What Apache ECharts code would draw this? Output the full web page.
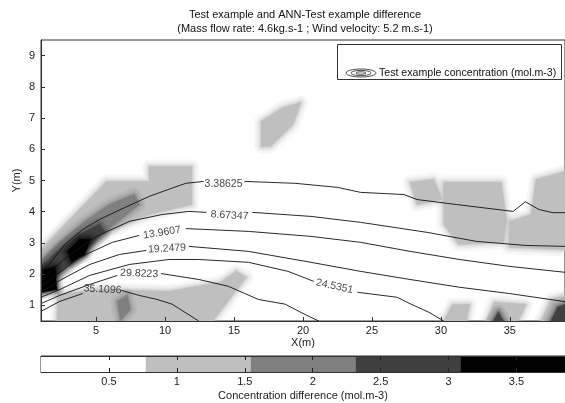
<!DOCTYPE html>
<html><head><meta charset="utf-8">
<script src="https://cdn.jsdelivr.net/npm/echarts@6/dist/echarts.min.js"></script>
<style>html,body{margin:0;padding:0;background:#fff}#c{width:565px;height:403px}</style>
</head><body><div id="c"></div>
<script>
const FONT = "'Liberation Sans', Arial, sans-serif";
const titleLines = ['Test example and ANN-Test example difference', '(Mass flow rate: 4.6kg.s-1 ; Wind velocity: 5.2 m.s-1)'];
const xTicks = [5, 10, 15, 20, 25, 30, 35];
const yTicks = [1, 2, 3, 4, 5, 6, 7, 8, 9];
const cbTicks = [0.5, 1, 1.5, 2, 2.5, 3, 3.5];
const cbEdges = [0, 0.771, 1.543, 2.314, 3.086, 3.857];
const cbColors = ['#ffffff', '#bfbfbf', '#808080', '#404040', '#000000'];

const contourLevels = [3.38625, 8.67347, 13.9607, 19.2479, 24.5351, 29.8223, 35.1096];
// each contour: list of segments (gaps where labels sit)
const contour1 = [
  [[1,1.99],[1.86,2.47],[2.73,2.96],[4.02,3.43],[5.24,3.75],[6.47,4.01],[7.76,4.27],[8.84,4.49],[10.28,4.72],[11.5,4.91],[12.8,4.97]],
  [[15.75,4.97],[19.42,4.91],[22.51,4.78],[24.17,4.62],[27.33,4.55],[28.27,4.39],[31.14,4.23],[35.24,4.01],[36.12,4.32],[37.12,4.07],[38.12,3.97],[39,3.97]]
];
const contour2 = [
  [[1,1.80],[2.01,2.22],[3.09,2.63],[5.03,3.21],[7.4,3.69],[9.78,3.91],[11.72,4.01],[13.0,3.98]],
  [[16.32,3.98],[20.57,3.85],[24.17,3.66],[28.99,3.34],[32.58,3.05],[36.18,2.92],[39,2.89]]
];
const contour3 = [
  [[1,1.61],[2.37,2.06],[3.81,2.54],[6.18,3.02],[8.12,3.24]],
  [[11.5,3.46],[16.04,3.37],[20.57,3.21],[24.17,3.02],[27.76,2.73],[31.36,2.47],[34.96,2.25],[39,2.06]]
];
const contour4 = [
  [[1,1.41],[2.37,1.80],[4.53,2.31],[6.68,2.63],[8.63,2.76]],
  [[11.72,2.89],[16.04,2.73],[20.57,2.38],[24.17,2.09],[27.76,1.83],[31.36,1.58],[34.96,1.38],[39,1.12]]
];
const contour5 = [
  [[1,1.26],[2.37,1.51],[4.53,1.96],[7.4,2.31],[10.28,2.47],[12.44,2.47],[16.04,2.38],[18.91,2.09],[20.78,1.77]],
  [[23.95,1.42],[26.83,1.26],[27.83,1.04],[29.13,0.78],[30.21,0.5]]
];
const contour6 = [
  [[1,1.06],[2.37,1.32],[4.53,1.67],[6.54,1.96]],
  [[9.71,2.02],[12.44,1.83],[14.6,1.61],[16.76,1.19],[18.7,1.04],[20.14,0.71],[21.14,0.5]]
];
const contour7 = [
  [[1,0.81],[2.37,1.13],[4.02,1.38]],
  [[6.83,1.48],[8.12,1.32],[9.42,1.19],[10.5,1.04],[12.44,0.5]]
];
// label anchor [x, y, rotation]
const contourLabelPos = [[14.24,4.87,0],[14.67,3.88,-3],[9.78,3.33,9],[10.14,2.82,3],[22.29,1.61,-12],[8.12,2.02,-2],[5.46,1.51,-3]];

// concentration-difference patches (value, outline in data coords)
const patchValues = [1.1, 1.1, 1.1, 1.1, 1.1, 1.1, 1.0, 1.1, 1.1, 2.0, 1.9, 2.8, 3.6, 3.6, 2.4, 2.4];
const patchShapes = [
  [[1,2.79],[5.75,4.97],[8.84,4.97],[8.84,5.45],[11.94,5.45],[11.94,4.23],[8.84,3.91],[5.96,3.37],[3.09,2.31],[1,1.45]],
  [[2.15,0.5],[2.22,1.35],[5.24,1.51],[10.28,1.45],[14.02,1.74],[15.17,2.09],[15.89,1.9],[13.45,0.5]],
  [[16.97,6.89],[18.55,7.34],[19.85,7.5],[19.27,6.79],[17.62,6.09],[16.97,6.09]],
  [[27.76,4.94],[29.49,5.03],[30.06,4.39],[28.27,4.23]],
  [[30.21,4.94],[34.38,4.94],[34.74,3.75],[34.53,3.02],[31.29,2.95],[30.21,3.59]],
  [[36.9,5.03],[39,5.29],[39,2.79],[34.96,2.86],[34.96,3.69],[36.54,3.91]],
  [[30.21,0.5],[30.86,1.03],[32.08,1.03],[31.86,0.5]],
  [[33.3,0.5],[33.88,1.1],[36.18,1.03],[35.6,0.5]],
  [[37.26,0.5],[37.98,1.19],[39,1.32],[39,0.5]],
  [[1,2.41],[2.37,3.02],[4.17,3.69],[5.96,4.23],[7.76,4.55],[8.12,4.23],[6.32,3.59],[4.53,2.96],[2.73,2.15],[1,1.58]],
  [[6.54,1.13],[7.26,1.32],[7.47,0.87],[6.76,0.52]],
  [[1,2.22],[2.37,2.79],[3.81,3.27],[5.24,3.59],[5.6,3.37],[4.17,2.79],[2.51,2.15],[1,1.67]],
  [[1,2.12],[2.01,2.22],[2.15,1.51],[1,1.42]],
  [[2.94,2.73],[3.81,3.11],[4.53,3.11],[4.17,2.63],[3.23,2.41]],
  [[33.81,0.5],[34.17,0.78],[34.53,0.5]],
  [[37.98,0.5],[38.48,0.94],[39,1.03],[39,0.5]]
];

function colorFor(v) {
  for (let i = 0; i < cbColors.length; i++) if (v < cbEdges[i + 1]) return cbColors[i];
  return cbColors[cbColors.length - 1];
}

const chart = echarts.init(document.getElementById('c'), null, {renderer: 'canvas'});
const contours = [contour1, contour2, contour3, contour4, contour5, contour6, contour7];
const series = [];

// soft-edged patches: wide translucent strokes under a solid fill
const softLayers = [[14, 0.12], [9, 0.18], [5, 0.28], [2, 0.5]];
series.push({
  type: 'custom', xAxisIndex: 0, yAxisIndex: 0, clip: true, silent: true, z: 1,
  data: patchValues.map((v, i) => [patchShapes[i][0][0], patchShapes[i][0][1], v, i]),
  encode: {x: 0, y: 1},
  renderItem: (params, api) => {
    const idx = api.value(3);
    const c = colorFor(api.value(2));
    const pts = patchShapes[idx].map(p => api.coord(p));
    const children = softLayers.map(([w, o]) => ({type: 'polygon', shape: {points: pts},
      style: {fill: c, stroke: c, lineWidth: w, lineJoin: 'round', opacity: o}}));
    children.push({type: 'polygon', shape: {points: pts}, style: {fill: c}});
    return {type: 'group', children};
  }
});

contours.forEach((segs) => {
  segs.forEach(seg => {
    series.push({type: 'line', xAxisIndex: 0, yAxisIndex: 0, data: seg, showSymbol: false, symbol: 'none',
      lineStyle: {color: '#111', width: 0.9}, z: 3, silent: true, clip: true});
  });
});

series.push({
  type: 'scatter', xAxisIndex: 0, yAxisIndex: 0, symbolSize: 0, z: 4, silent: true,
  data: contourLabelPos.map((p, i) => ({value: [p[0], p[1]], name: String(contourLevels[i]),
    label: {show: true, position: 'inside', rotate: p[2], formatter: String(contourLevels[i]),
      fontSize: 10.5, fontFamily: FONT, color: '#111'}}))
});

series.push({
  type: 'custom', xAxisIndex: 1, yAxisIndex: 1, silent: true, z: 1,
  data: cbColors.map((c, i) => [cbEdges[i], cbEdges[i + 1], i]),
  encode: {x: [0, 1]},
  renderItem: (params, api) => {
    const p0 = api.coord([api.value(0), 1]);
    const p1 = api.coord([api.value(1), 0]);
    return {type: 'rect', shape: {x: p0[0], y: p0[1], width: p1[0] - p0[0], height: p1[1] - p0[1]},
      style: {fill: cbColors[api.value(2)]}};
  }
});

const axisTxt = {fontSize: 11, fontFamily: FONT, color: '#222'};

chart.setOption({
  animation: false,
  backgroundColor: '#fff',
  grid: [
    {left: 41, top: 40, width: 528, height: 281, show: true, borderColor: '#333', borderWidth: 1, backgroundColor: 'transparent', containLabel: false},
    {left: 41, top: 356, width: 532, height: 16, show: true, borderColor: '#333', borderWidth: 1, backgroundColor: 'transparent', containLabel: false}
  ],
  xAxis: [
    {type: 'value', gridIndex: 0, min: 1, max: 39, z: 6,
      name: 'X(m)', nameLocation: 'middle', nameGap: 16, nameMoveOverlap: false, nameTextStyle: axisTxt,
      axisLine: {show: true, lineStyle: {color: '#333'}},
      axisTick: {show: true, inside: true, length: 4, customValues: xTicks, lineStyle: {color: '#333'}},
      axisLabel: {show: true, margin: 4, customValues: xTicks, ...axisTxt},
      splitLine: {show: false}},
    {type: 'value', gridIndex: 1, min: 0, max: 3.857, position: 'bottom', z: 6,
      name: 'Concentration difference (mol.m-3)', nameLocation: 'middle', nameGap: 18, nameMoveOverlap: false, nameTextStyle: axisTxt,
      axisLine: {show: true, lineStyle: {color: '#333'}},
      axisTick: {show: true, inside: true, length: 4, customValues: cbTicks, lineStyle: {color: '#222'}},
      axisLabel: {show: true, margin: 4, customValues: cbTicks, ...axisTxt},
      splitLine: {show: false}},
    {type: 'value', gridIndex: 1, min: 0, max: 3.857, position: 'top', z: 6,
      axisLine: {show: true, lineStyle: {color: '#333'}},
      axisTick: {show: true, inside: true, length: 4, customValues: cbTicks, lineStyle: {color: '#222'}},
      axisLabel: {show: false}, splitLine: {show: false}}
  ],
  yAxis: [
    {type: 'value', gridIndex: 0, min: 0.5, max: 9.5, z: 6,
      name: 'Y(m)', nameLocation: 'middle', nameGap: 19, nameMoveOverlap: false, nameTextStyle: axisTxt,
      axisLine: {show: true, lineStyle: {color: '#333'}},
      axisTick: {show: true, inside: true, length: 4, customValues: yTicks, lineStyle: {color: '#333'}},
      axisLabel: {show: true, margin: 6, customValues: yTicks, ...axisTxt},
      splitLine: {show: false}},
    {type: 'value', gridIndex: 1, min: 0, max: 1, show: false}
  ],
  graphic: [
    {type: 'text', x: 305, y: 15, z: 10, style: {text: titleLines[0], textAlign: 'center', textVerticalAlign: 'middle', font: '11px ' + FONT, fill: '#111'}},
    {type: 'text', x: 305, y: 29, z: 10, style: {text: titleLines[1], textAlign: 'center', textVerticalAlign: 'middle', font: '11px ' + FONT, fill: '#111'}},
    {type: 'rect', z: 10, shape: {x: 337.5, y: 44.5, width: 224, height: 35}, style: {fill: '#fff', stroke: '#333', lineWidth: 1}},
    {type: 'ellipse', z: 11, shape: {cx: 361, cy: 73, rx: 15, ry: 4}, style: {fill: 'none', stroke: '#222', lineWidth: 0.8}},
    {type: 'ellipse', z: 11, shape: {cx: 361, cy: 73, rx: 10, ry: 2.6}, style: {fill: 'none', stroke: '#222', lineWidth: 0.8}},
    {type: 'ellipse', z: 11, shape: {cx: 361, cy: 73, rx: 5, ry: 1.2}, style: {fill: 'none', stroke: '#222', lineWidth: 0.8}},
    {type: 'text', z: 11, x: 379, y: 73, style: {text: 'Test example concentration (mol.m-3)', textVerticalAlign: 'middle', font: '10.6px ' + FONT, fill: '#111'}}
  ],
  series: series
});
</script></body></html>
